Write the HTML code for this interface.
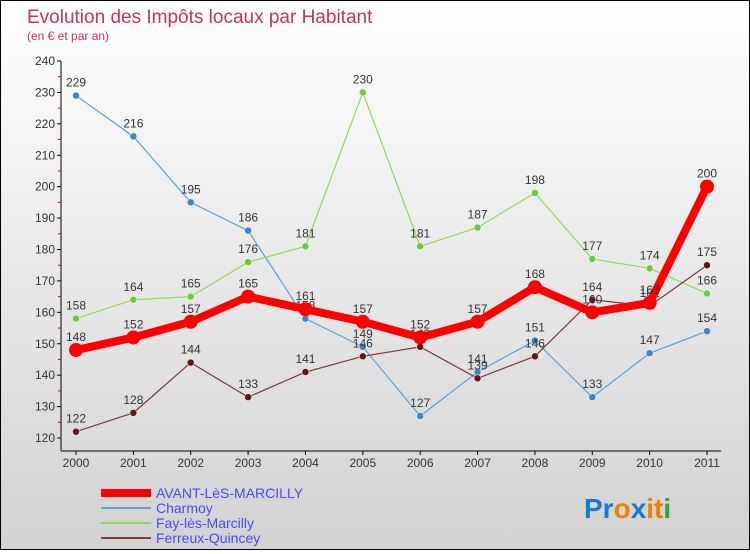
<!DOCTYPE html>
<html><head><meta charset="utf-8"><style>
body{margin:0;width:750px;height:550px;overflow:hidden;font-family:"Liberation Sans",sans-serif}
#c{position:absolute;left:0;top:0;width:748px;height:548px;border:1px solid #000;background:linear-gradient(#fff,#d2d2d2)}
</style></head><body>
<div id="c">
<svg id="s" width="748" height="548" xmlns="http://www.w3.org/2000/svg">
<text x="26" y="22" font-size="19" fill="#c8325a">Evolution des Impôts locaux par Habitant</text>
<text x="26" y="39" font-size="12" fill="#c8325a">(en € et par an)</text>
<g id="axes"></g><g id="series"></g><g id="legend"></g>
<text x="583" y="517" font-size="28" font-weight="bold"><tspan fill="#1a7ad0">Pr</tspan><tspan fill="#f08000">o</tspan><tspan fill="#1a7ad0">x</tspan><tspan fill="#f08000">it</tspan><tspan fill="#30a040">i</tspan></text>
</svg></div>
<script>
const years=[2000,2001,2002,2003,2004,2005,2006,2007,2008,2009,2010,2011];
const yTicks=[120,130,140,150,160,170,180,190,200,210,220,230,240];
const avant=[148,152,157,165,161,157,152,157,168,160,163,200];
const charmoy=[229,216,195,186,158,149,127,141,151,133,147,154];
const fay=[158,164,165,176,181,230,181,187,198,177,174,166];
const ferreux=[122,128,144,133,141,146,149,139,146,164,162,175];
const NS="http://www.w3.org/2000/svg";
const X=i=>75+i*(631/11);
const Y=v=>437-(v-120)*(377/120);
function mk(t,a,p){const e=document.createElementNS(NS,t);for(const k in a)e.setAttribute(k,a[k]);p.appendChild(e);return e;}
const ax=document.getElementById('axes');
let yl=mk('line',{x1:60,y1:60,x2:60,y2:450,stroke:'#000'},ax);


let xl=mk('line',{x1:60,y1:450,x2:720,y2:450,stroke:'#000'},ax);


yTicks.forEach(v=>{
 mk('line',{x1:56,y1:Y(v),x2:60,y2:Y(v),stroke:'#000'},ax);
 if(v<240)mk('line',{x1:57,y1:Y(v+5),x2:60,y2:Y(v+5),stroke:'#d00'},ax);
 const t=mk('text',{x:54,y:Y(v)+4,'font-size':12,fill:'#333','text-anchor':'end'},ax);t.textContent=v;
 
 
});
years.forEach((y,i)=>{
 mk('line',{x1:X(i),y1:450,x2:X(i),y2:454,stroke:'#000'},ax);
 const t=mk('text',{x:X(i),y:466,'font-size':12,fill:'#333','text-anchor':'middle'},ax);t.textContent=y;
 
 
});
const sg=document.getElementById('series');
const series=[
 {n:'Charmoy',d:charmoy,c:'#5a9fd4',f:'#3a86c8',w:1.2,r:3.5},
 {n:'Fay-lès-Marcilly',d:fay,c:'#8fd860',f:'#70c840',w:1.2,r:3.5},
 {n:'Ferreux-Quincey',d:ferreux,c:'#7a3a3a',f:'#601818',w:1.2,r:3.5},
 {n:'AVANT-LèS-MARCILLY',d:avant,c:'#ff0000',f:'#ff0000',w:8,r:7}
];
series.forEach(s=>{
 const g=mk('g',{},sg);
 
 
 const pl=mk('polyline',{points:s.d.map((v,i)=>X(i)+','+Y(v)).join(' '),fill:'none',stroke:s.c,'stroke-width':s.w,'stroke-linejoin':'round'},g);
 
 
 s.d.forEach((v,i)=>{
  const c=mk('circle',{cx:X(i),cy:Y(v),r:s.r,fill:s.f,stroke:s.r>5?'none':'#fff','stroke-width':0.5},g);
  
  
  const t=mk('text',{x:X(i),y:Y(v)-9,'font-size':12,fill:'#333','text-anchor':'middle'},g);t.textContent=v;
  
  
 });
});
const lg=document.getElementById('legend');
[series[3],series[0],series[1],series[2]].forEach((s,k)=>{
 const y=492+k*15;
 const g=mk('g',{},lg);
 
 
 mk('line',{x1:100,y1:y,x2:150,y2:y,stroke:s.c,'stroke-width':s.w>2?8:2},g);
 const t=mk('text',{x:155,y:y+5,'font-size':14,fill:'#4a4af0'},g);t.textContent=s.n;
});
</script>
</body></html>
